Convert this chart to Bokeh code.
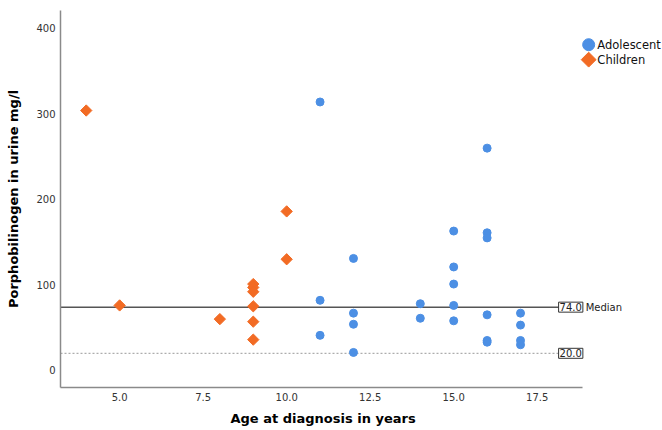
from bokeh.plotting import figure
from bokeh.models import Range1d, Label, FixedTicker, NumeralTickFormatter, ColumnDataSource, Title
from bokeh.embed import file_html
from bokeh.resources import INLINE

# ---- data ----
children_age = [4, 5, 8, 9, 9, 9, 9, 9, 9, 10, 10]
children_pbg = [304, 76, 60, 101, 97, 92, 75, 57, 36, 186, 130]

adolescent_age = [11, 11, 11, 12, 12, 12, 12, 14, 14, 15, 15, 15, 15, 15,
                  16, 16, 16, 16, 16, 16, 17, 17, 17, 17]
adolescent_pbg = [314, 82, 41, 131, 67, 54, 21, 78, 61, 163, 121, 101, 76, 58,
                  260, 161, 155, 65, 35, 33, 67, 53, 35, 30]

groups = ["Adolescent", "Children"]
median_value = 74.0
reference_value = 20.0
y_ticks = [0, 100, 200, 300, 400]
x_ticks = [5.0, 7.5, 10.0, 12.5, 15.0, 17.5]

BLUE = "#4C8FE4"
ORANGE = "#F26B24"
FONT = "DejaVu Sans"

# ---- layout constants ----
X0, X_AXIS_END, X1 = 3.23, 18.87, 21.25
Y0, Y1 = -20, 421
LINE_END = 18.14        # reference lines stop where their value box starts
MEDIAN_TEXT_X = 18.95
LEG_MARK_X, LEG_TEXT_X = 19.04, 19.30
LEG_Y = [381, 363.5]

p = figure(width=662, height=430, output_backend="svg", toolbar_location=None,
           x_range=Range1d(X0, X1), y_range=Range1d(Y0, Y1),
           min_border_left=60, min_border_top=10, min_border_right=0, min_border_bottom=43)
p.outline_line_color = None
p.xgrid.visible = False
p.ygrid.visible = False

for ax in (p.xaxis[0], p.yaxis[0]):
    ax.axis_line_color = "#8a8a8a"
    ax.axis_line_width = 1.5
    ax.major_tick_line_color = None
    ax.minor_tick_line_color = None
    ax.major_tick_out = 0
    ax.major_tick_in = 0
    ax.minor_tick_out = 0
    ax.major_label_text_font = FONT
    ax.major_label_text_font_size = "10px"
    ax.major_label_text_color = "#333333"
    ax.axis_label_text_font = FONT
    ax.axis_label_text_font_size = "13px"
    ax.axis_label_text_font_style = "bold"
    ax.axis_label_text_color = "#000000"

p.xaxis.bounds = (X0, X_AXIS_END)
p.xaxis.ticker = FixedTicker(ticks=x_ticks)
p.yaxis.ticker = FixedTicker(ticks=y_ticks)
p.xaxis.formatter = NumeralTickFormatter(format="0.0")
p.yaxis.axis_label = "Porphobilinogen in urine mg/l"
p.xaxis.major_label_standoff = 5
p.yaxis.major_label_standoff = 5
p.yaxis.axis_label_standoff = 12

p.add_layout(Title(text="Age at diagnosis in years", align="left", offset=170,
                   text_font=FONT, text_font_size="13px", text_font_style="bold",
                   text_color="#000000", standoff=10), "below")

# reference lines
p.line([X0, LINE_END], [median_value, median_value], line_color="#555555", line_width=1.5)
p.line([X0, LINE_END], [reference_value, reference_value], line_color="#999999",
       line_width=1, line_dash="2 2")

# data
src_c = ColumnDataSource(dict(x=children_age, y=children_pbg))
src_a = ColumnDataSource(dict(x=adolescent_age, y=adolescent_pbg))
p.scatter("x", "y", source=src_a, marker="circle", size=8, fill_color=BLUE, line_color=BLUE)
p.scatter("x", "y", source=src_c, marker="square", size=8, angle=0.785398,
          fill_color=ORANGE, line_color=ORANGE)

# labels for lines
for val in (median_value, reference_value):
    p.add_layout(Label(x=LINE_END, y=val, text="%.1f" % val, text_baseline="middle",
                       text_align="left", text_font=FONT, text_font_size="10px",
                       text_color="#222222", padding=1, border_line_color="#333333",
                       border_line_width=1, background_fill_color="white"))
p.add_layout(Label(x=MEDIAN_TEXT_X, y=median_value, text="Median", text_baseline="middle",
                   text_align="left", text_font=FONT, text_font_size="10px",
                   text_color="#222222"))

# legend (drawn as marks + labels, larger markers than in the plot)
p.scatter([LEG_MARK_X], [LEG_Y[0]], marker="circle", size=12, fill_color=BLUE, line_color=BLUE)
p.scatter([LEG_MARK_X], [LEG_Y[1]], marker="square", size=10.5, angle=0.785398,
          fill_color=ORANGE, line_color=ORANGE)
for name, yy in zip(groups, LEG_Y):
    p.add_layout(Label(x=LEG_TEXT_X, y=yy, text=name, text_baseline="middle",
                       text_align="left", text_font=FONT, text_font_size="11.5px",
                       text_color="#111111"))

open("out.html", "w").write(file_html(p, INLINE))
